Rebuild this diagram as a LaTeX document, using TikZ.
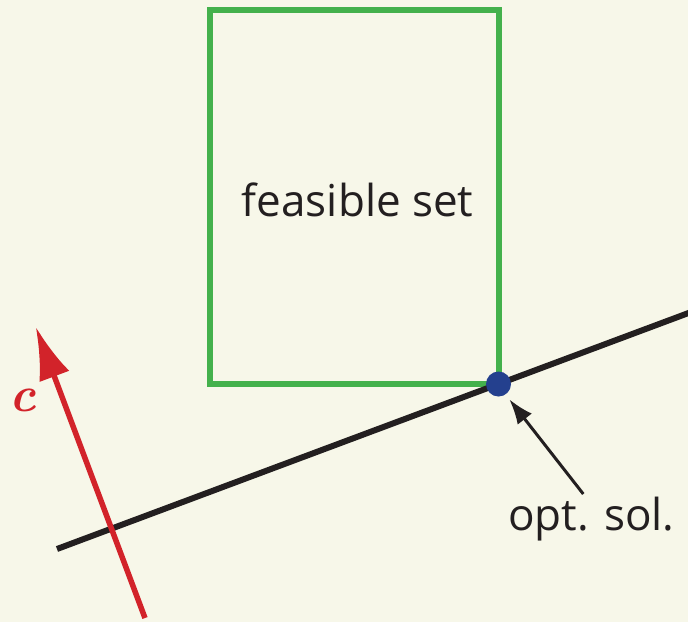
\documentclass[tikz,border=0pt]{standalone}
\usepackage{fontspec}
\setmainfont{Open Sans}
\newfontfamily\vecfont{Latin Modern Roman}
\usepackage{xcolor}
\usepackage{tikz}
\usetikzlibrary{arrows.meta}
\definecolor{paper}{HTML}{F7F7E9}
\definecolor{feasgreen}{HTML}{44B14C}
\definecolor{cred}{HTML}{D2232A}
\definecolor{optblue}{HTML}{24408E}
\definecolor{ink}{HTML}{231F20}
\tikzset{
  feas/.style={draw=feasgreen,line width=6pt},
  hyper/.style={draw=ink,line width=6pt},
  cvec/.style={draw=cred,line width=5.5pt,-{Latex[length=53pt,width=32pt]}},
  ptr/.style={draw=ink,line width=3pt,-{Latex[length=25pt,width=18pt]}},
  dot/.style={circle,fill=optblue,minimum size=25pt,inner sep=0pt},
  lbl/.style={font=\fontsize{44}{50}\selectfont,text=ink,anchor=base,inner sep=0pt},
}

\begin{document}
\begin{tikzpicture}[x=1pt,y=-1pt]
  \fill[paper] (0,0) rectangle (688,622);
  \useasboundingbox (0,0) rectangle (688,622);
  % feasible set
  \coordinate (nw) at (210.3,10.3);
  \coordinate (se) at (498.7,383.5);
  \draw[feas] (nw) rectangle (se);
  \node[lbl] (feastext) at (357.7,216.7){feasible set};
  % level line through the optimum
  \coordinate (h1) at (57,549);
  \coordinate (h2) at (700,308.7);
  \draw[hyper] (h1)--(h2);
  \node[dot] (opt) at (498.5,384){};
  % cost vector
  \coordinate (cbot) at (145,618);
  \coordinate (ctip) at (35.7,326.7);
  \draw[cvec] (cbot)--(ctip);
  \node[text=cred,font=\vecfont\bfseries\itshape\fontsize{50}{55}\selectfont,anchor=base,inner sep=0pt] (clabel) at (23,411.7){c};
  % optimum label
  \node[lbl] (optlabel) at (591.5,530){opt. sol.};
  \coordinate (ptail) at (583.3,494);
  \coordinate (ptip) at (509.3,399.3);
  \draw[ptr] (ptail)--(ptip);
\end{tikzpicture}
\end{document}
